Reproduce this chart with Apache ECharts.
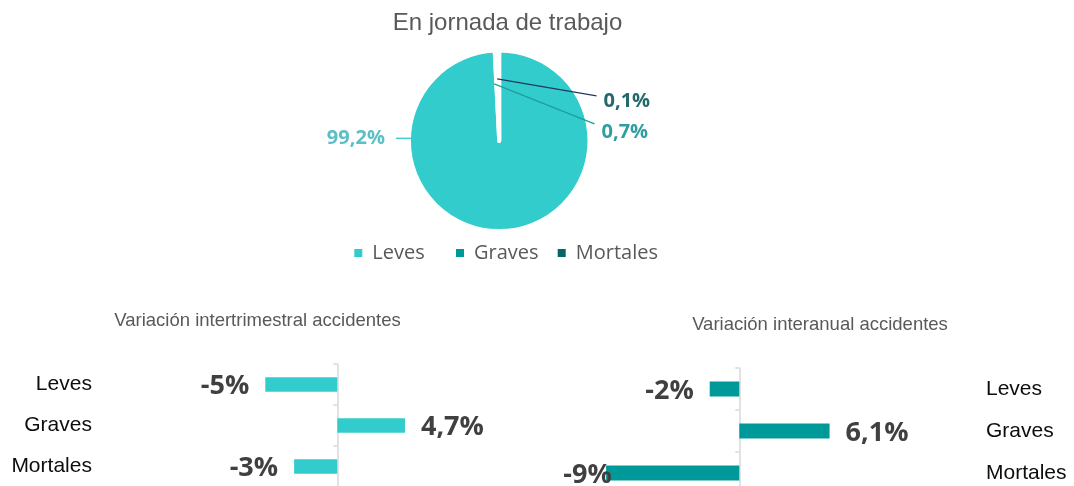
<!DOCTYPE html>
<html>
<head>
<meta charset="utf-8">
<script src="https://cdn.jsdelivr.net/npm/echarts@6/dist/echarts.min.js"></script>
<style>
  html, body { margin: 0; padding: 0; background: #ffffff; }
  #chart { width: 1074px; height: 486px; }
</style>
</head>
<body>
<div id="chart"></div>
<script>
// Share of workplace accidents by severity (%)
const pieCategories = ['Leves', 'Graves', 'Mortales'];
const pieShares = [99.2, 0.7, 0.1];

// Change in accidents by severity (%)
const barCategories = ['Leves', 'Graves', 'Mortales'];
const quarterlyChange = [-5, 4.7, -3];
const yearlyChange = [-2, 6.1, -9];

const seriesColors = ['#33CCCC', '#009999', '#006666'];
const pieLabelColors = ['#5CBEC6', '#2E9EA0', '#23686C'];
const pieLineColors = ['#33CCCC', '#1F9C9C', '#1F3A5F'];

const pct = v => String(v).replace('.', ',') + '%';

// pie geometry (px)
const PIE = { cx: 499.2, cy: 140.8, r: 88.3, border: 4 };

// label anchors and leader lines, relative to the pie centre
function pieLabelGeometry(i) {
  const cx = PIE.cx, cy = PIE.cy, r = PIE.r;
  if (i === 0) {
    return { x: cx - r - 26, y: cy - 2.5, align: 'right',
             line: [[cx - r + 3, cy - 2.5], [cx - r - 15, cy - 2.5]] };
  }
  if (i === 1) {
    return { x: cx + r + 14, y: cy - 9, align: 'left',
             line: [[cx - 5, cy - 57], [cx + r + 7, cy - 17]] };
  }
  return { x: cx + r + 16, y: cy - 40, align: 'left',
           line: [[cx - 2, cy - 62], [cx + r + 9, cy - 45]] };
}

// legend slots (left edge of each entry)
const LEGEND_LEFT = [354.3, 456, 557.7];

// bar panels: zero line position and px per percentage point
const LEFT = { zero: 337.3, scale: 14.4, min: -16, max: 12, top: 364, band: 41 };
const RIGHT = { zero: 739.3, scale: 14.8, min: -12, max: 14, top: 368, band: 42 };

function gridFor(p) {
  return {
    left: p.zero + p.min * p.scale,
    width: (p.max - p.min) * p.scale,
    top: p.top,
    height: p.band * barCategories.length,
    outerBoundsMode: 'none'
  };
}

const barLabelStyle = {
  show: true,
  distance: 16,
  fontFamily: 'Open Sans',
  fontWeight: 'bold',
  fontSize: 27,
  color: '#404040',
  offset: [0, 2],
  formatter: p => pct(p.value)
};

function barData(values, p) {
  return values.map(v => {
    const item = { value: v, label: { position: v < 0 ? 'left' : 'right' } };
    // keep the longest negative label inside the panel
    const barStart = p.zero + v * p.scale;
    const labelRight = barStart - 16;
    const approxWidth = 48;
    const minLeft = p.zero + p.min * p.scale;
    if (v < 0 && labelRight - approxWidth < minLeft + 2) {
      item.label.offset = [minLeft + 2 - (labelRight - approxWidth), 2];
    }
    return item;
  });
}

const chart = echarts.init(document.getElementById('chart'), null, { renderer: 'canvas' });

const leaderLines = pieCategories.map((name, i) => ({
  type: 'polyline', silent: true, z: 100,
  shape: { points: pieLabelGeometry(i).line },
  style: { stroke: pieLineColors[i], lineWidth: 1.3, fill: null }
}));

const option = {
  animation: false,
  backgroundColor: '#ffffff',
  graphic: [
    { type: 'text', x: 507.5, y: 23, silent: true,
      style: { text: 'En jornada de trabajo', fontSize: 24, fontFamily: 'Liberation Sans',
               fill: '#595959', align: 'center', verticalAlign: 'middle' } },
    { type: 'text', x: 257.5, y: 321, silent: true,
      style: { text: 'Variación intertrimestral accidentes', fontSize: 18.5, fontFamily: 'Liberation Sans',
               fill: '#595959', align: 'center', verticalAlign: 'middle' } },
    { type: 'text', x: 820, y: 324.5, silent: true,
      style: { text: 'Variación interanual accidentes', fontSize: 18.5, fontFamily: 'Liberation Sans',
               fill: '#595959', align: 'center', verticalAlign: 'middle' } }
  ].concat(leaderLines),
  legend: pieCategories.map((name, i) => ({
    data: [name],
    left: LEGEND_LEFT[i],
    top: 243,
    padding: 0,
    icon: 'rect',
    itemWidth: 8,
    itemHeight: 8,
    selectedMode: false,
    itemStyle: { borderWidth: 0 },
    textStyle: { fontFamily: 'Open Sans', fontSize: 20, color: '#595959', padding: [0, 0, 0, 5] }
  })),
  grid: [gridFor(LEFT), gridFor(RIGHT)],
  xAxis: [
    { type: 'value', gridIndex: 0, min: LEFT.min, max: LEFT.max, show: false },
    { type: 'value', gridIndex: 1, min: RIGHT.min, max: RIGHT.max, show: false }
  ],
  yAxis: [
    // zero lines with category ticks
    { type: 'category', gridIndex: 0, data: barCategories, inverse: true,
      axisLine: { show: true, onZero: true, lineStyle: { color: '#D9D9D9', width: 1.5 } },
      axisTick: { show: true, length: 4, lineStyle: { color: '#D9D9D9', width: 1.5 } },
      axisLabel: { show: false }, splitLine: { show: false } },
    { type: 'category', gridIndex: 1, data: barCategories, inverse: true,
      axisLine: { show: true, onZero: true, lineStyle: { color: '#D9D9D9', width: 1.5 } },
      axisTick: { show: true, length: 4, lineStyle: { color: '#D9D9D9', width: 1.5 } },
      axisLabel: { show: false }, splitLine: { show: false } },
    // category names at the panel edges
    { type: 'category', gridIndex: 0, data: barCategories, inverse: true, position: 'left',
      axisLine: { show: false, onZero: false }, axisTick: { show: false }, splitLine: { show: false },
      axisLabel: { margin: 15, color: '#0D0D0D', fontSize: 21, fontFamily: 'Liberation Sans' } },
    { type: 'category', gridIndex: 1, data: barCategories, inverse: true, position: 'right',
      axisLine: { show: false, onZero: false }, axisTick: { show: false }, splitLine: { show: false },
      axisLabel: { margin: 39.5, color: '#0D0D0D', fontSize: 21, fontFamily: 'Liberation Sans' } }
  ],
  series: [
    {
      type: 'pie',
      silent: true,
      center: [PIE.cx, PIE.cy],
      radius: PIE.r + PIE.border / 2,
      startAngle: 90,
      clockwise: true,
      avoidLabelOverlap: false,
      minShowLabelAngle: 0,
      emphasis: { disabled: true },
      itemStyle: { borderColor: '#ffffff', borderWidth: PIE.border },
      label: {
        show: true, position: 'outside',
        fontFamily: 'Open Sans', fontWeight: 'bold', fontSize: 20,
        formatter: p => pct(p.value)
      },
      labelLine: { show: false },
      labelLayout: function (p) {
        const g = pieLabelGeometry(p.dataIndex);
        return { x: g.x, y: g.y, align: g.align, verticalAlign: 'middle' };
      },
      data: pieCategories.map((name, i) => ({
        name: name,
        value: pieShares[i],
        itemStyle: { color: seriesColors[i] },
        label: { color: pieLabelColors[i] }
      }))
    },
    {
      type: 'bar', name: 'Variación intertrimestral', silent: true,
      xAxisIndex: 0, yAxisIndex: 0, barWidth: 14.5,
      itemStyle: { color: seriesColors[0] },
      label: barLabelStyle,
      data: barData(quarterlyChange, LEFT)
    },
    {
      type: 'bar', name: 'Variación interanual', silent: true,
      xAxisIndex: 1, yAxisIndex: 1, barWidth: 15,
      itemStyle: { color: seriesColors[1] },
      label: barLabelStyle,
      data: barData(yearlyChange, RIGHT)
    }
  ]
};

chart.setOption(option);
</script>
</body>
</html>
